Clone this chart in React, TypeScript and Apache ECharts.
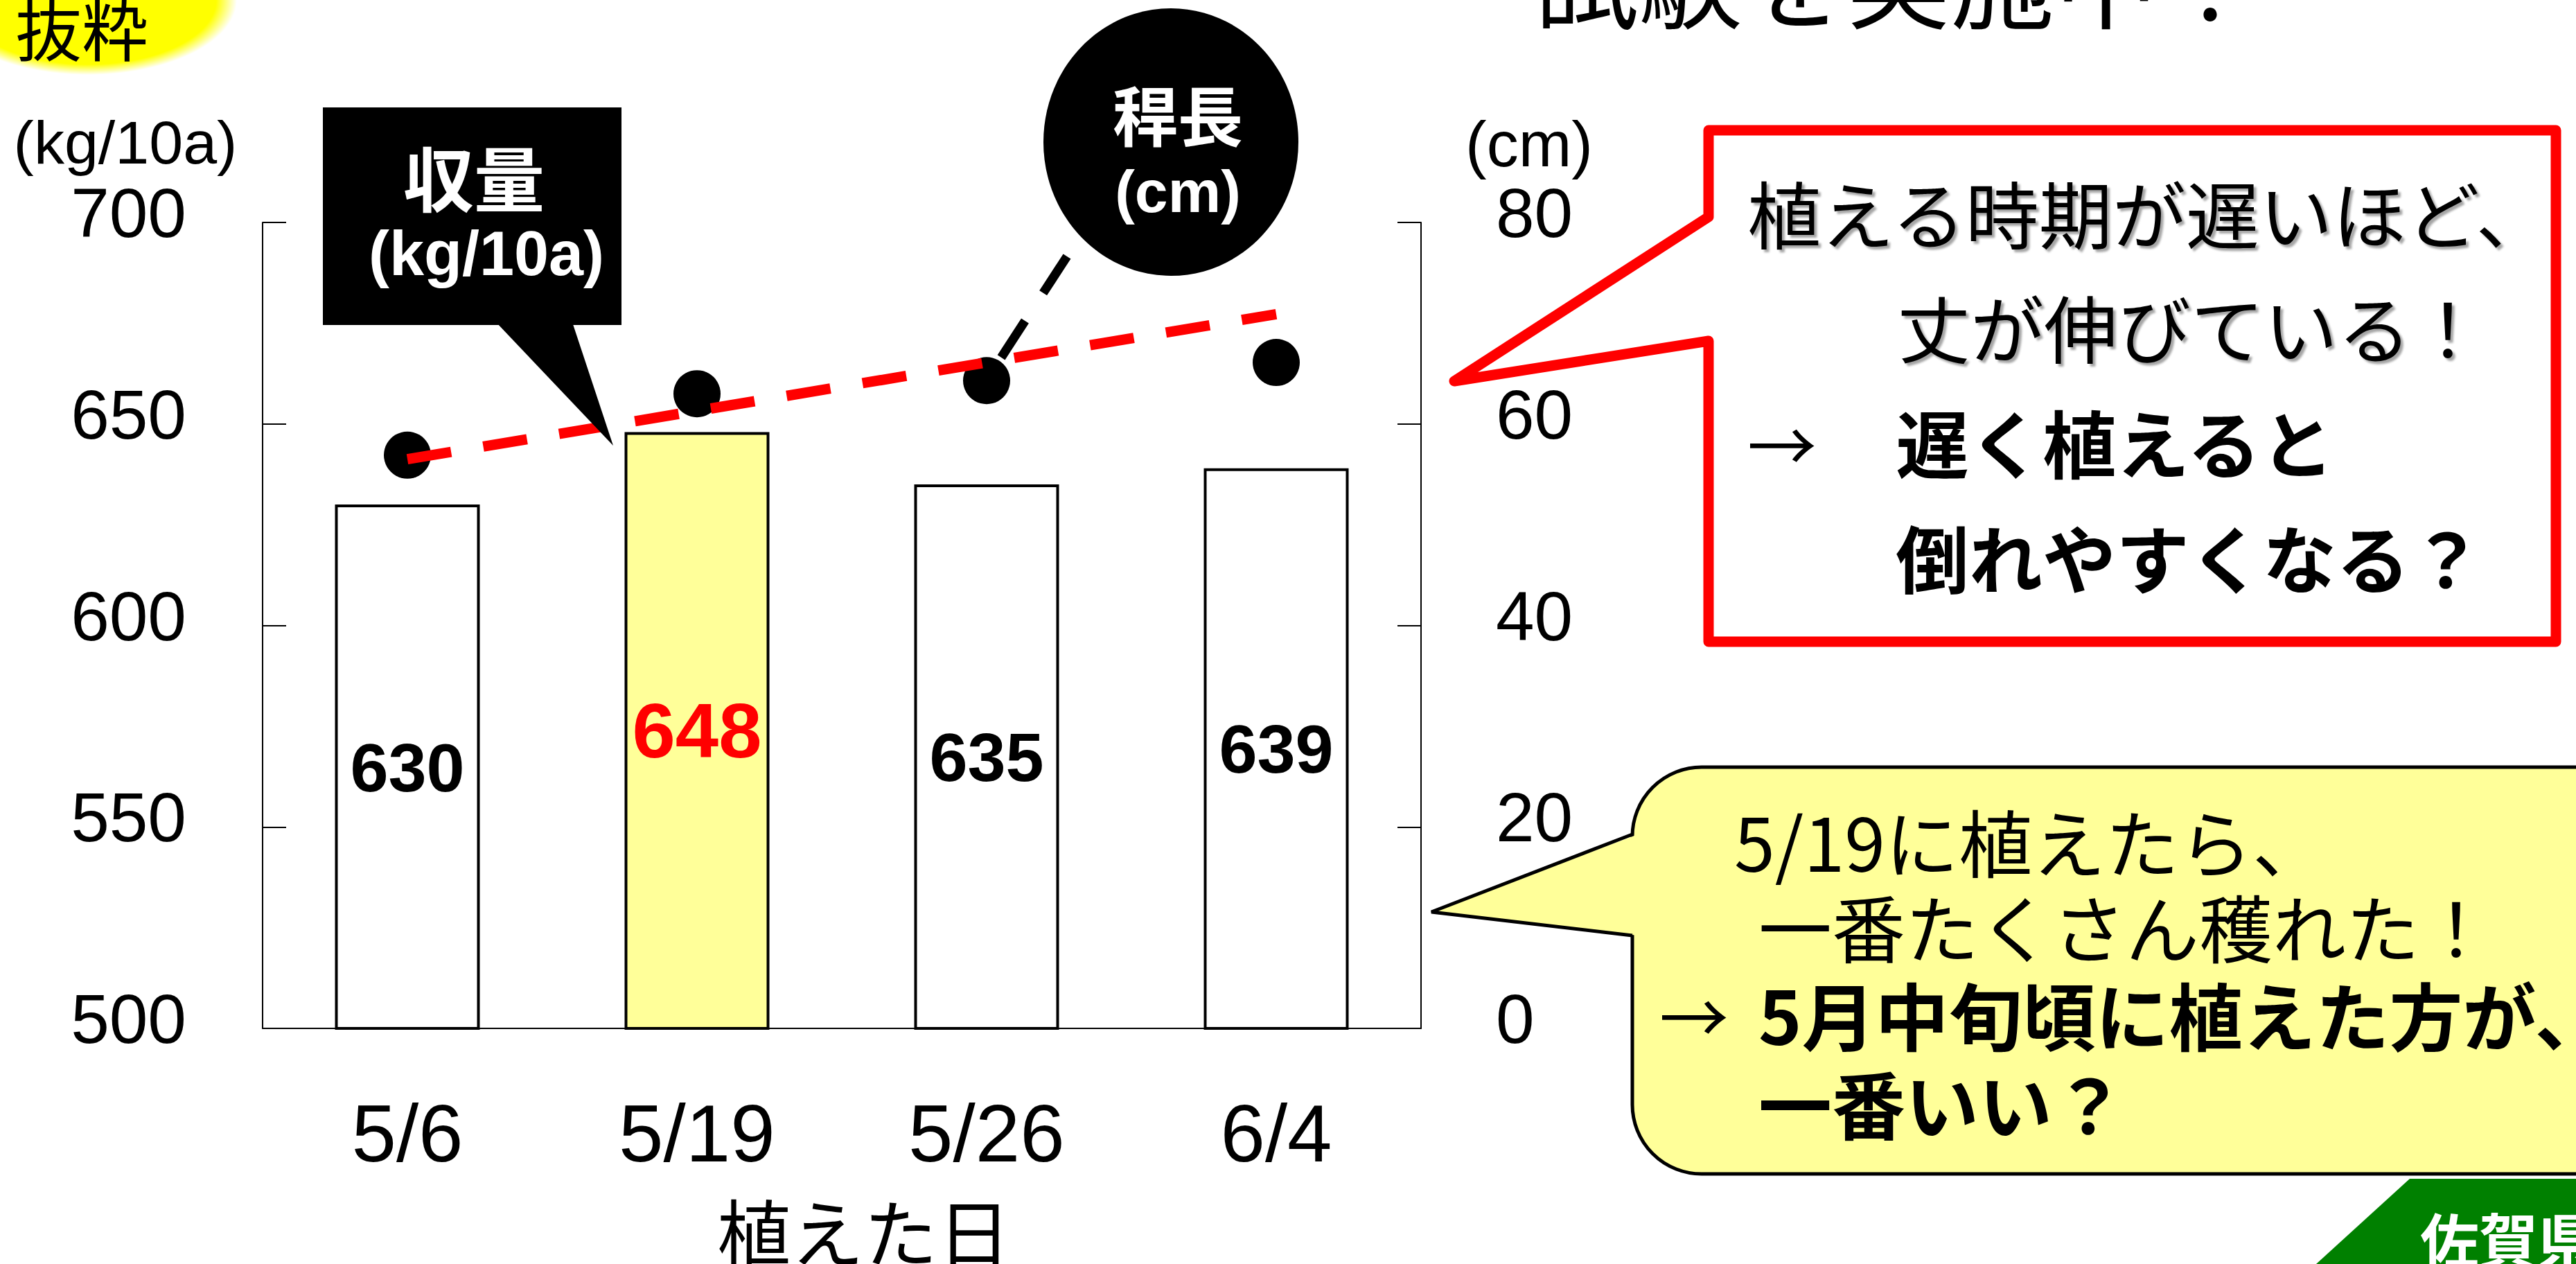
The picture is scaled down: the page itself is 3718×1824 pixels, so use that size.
import React, { useEffect, useRef } from "react";
import * as echarts from "echarts";

// ---- data ----
const categories = ["5/6", "5/19", "5/26", "6/4"];
const yieldValues = [630, 648, 635, 639]; // 収量 (kg/10a)
const stemLength = [56.9, 63.0, 64.3, 66.1]; // 稈長 (cm)
const trendEnds = [56.5, null, null, 70.9]; // hand-drawn trend line end points (cm)
const highlightDate = "5/19";
const yieldAxis = { min: 500, max: 700, interval: 50 };
const stemAxis = { min: 0, max: 80, interval: 20 };

const JP = '"Noto Sans CJK JP", "Noto Sans", sans-serif';
const NUM = '"Liberation Sans", Arial, "Noto Sans CJK JP", sans-serif';

function txt(x: number, y: number, text: string, o: any = {}) {
  const fs = o.fontSize ?? 106;
  return {
    type: "text",
    x,
    y,
    z: o.z ?? 20,
    style: {
      text,
      fill: o.fill ?? "#000",
      fontSize: fs,
      lineHeight: Math.round(fs * 1.05),
      fontFamily: o.fontFamily ?? JP,
      fontWeight: o.fontWeight ?? "normal",
      align: o.align ?? "left",
      verticalAlign: "middle",
      ...(o.shadow
        ? {
            textShadowColor: "rgba(0,0,0,0.35)",
            textShadowBlur: 3,
            textShadowOffsetX: 4,
            textShadowOffsetY: 4,
          }
        : {}),
    },
  };
}

export default function App() {
  const ref = useRef<HTMLDivElement>(null);

  useEffect(() => {
    document.body.style.margin = "0";
    document.body.style.overflow = "hidden";
    if (!ref.current) return;
    const chart = echarts.init(ref.current, undefined, { renderer: "svg" });

    const barData = yieldValues.map((v, i) => {
      const hl = categories[i] === highlightDate;
      return {
        value: v,
        itemStyle: { color: hl ? "#FFFF99" : "#FFFFFF" },
        label: { color: hl ? "#FF0000" : "#000000", fontSize: hl ? 112 : 99 },
      };
    });

    const yellowFill = "#FFFF99";

    const graphic: any[] = [
      // 抜粋 glow
      {
        type: "ellipse",
        z: 15,
        shape: { cx: 127, cy: 0, rx: 215, ry: 108 },
        style: {
          fill: new echarts.graphic.RadialGradient(0.5, 0.5, 0.5, [
            { offset: 0, color: "#FFFF00" },
            { offset: 0.86, color: "#FFFF00" },
            { offset: 1, color: "rgba(255,255,0,0)" },
          ]),
        },
      },
      txt(22, 38, "抜粋", { fontSize: 96 }),
      // top partial title
      txt(2215, -36, "試験を実施中！", { fontSize: 150 }),
      // axis names
      txt(181, 205, "(kg/10a)", { fontFamily: NUM, fontSize: 88, align: "center" }),
      txt(2207, 208, "(cm)", { fontFamily: NUM, fontSize: 92, align: "center" }),
      txt(1247, 1774, "植えた日", { fontSize: 106, align: "center" }),
      // 収量 callout
      {
        type: "polygon",
        z: 18,
        shape: { points: [[716, 465], [826, 465], [885, 643]] },
        style: { fill: "#000" },
      },
      {
        type: "rect",
        z: 18,
        shape: { x: 466, y: 155, width: 431, height: 314 },
        style: { fill: "#000" },
      },
      txt(684, 253, "収量", { fill: "#fff", fontWeight: "bold", fontSize: 102, align: "center" }),
      txt(702, 366, "(kg/10a)", {
        fill: "#fff",
        fontWeight: "bold",
        fontFamily: NUM,
        fontSize: 90,
        align: "center",
      }),
      // 稈長 callout
      {
        type: "line",
        z: 18,
        shape: { x1: 1540, y1: 370, x2: 1445, y2: 516 },
        style: { stroke: "#000", lineWidth: 13, lineDash: [63, 48] },
      },
      {
        type: "ellipse",
        z: 18,
        shape: { cx: 1690, cy: 205, rx: 184, ry: 193 },
        style: { fill: "#000" },
      },
      txt(1700, 163, "稈長", { fill: "#fff", fontWeight: "bold", fontSize: 94, align: "center" }),
      txt(1700, 276, "(cm)", {
        fill: "#fff",
        fontWeight: "bold",
        fontFamily: NUM,
        fontSize: 86,
        align: "center",
      }),
      // red callout
      {
        type: "polygon",
        z: 18,
        shape: {
          points: [
            [2466, 188],
            [3689, 188],
            [3689, 926],
            [2466, 926],
            [2466, 492],
            [2099, 550],
            [2466, 313],
          ],
        },
        style: { fill: "#fff", stroke: "#FF0000", lineWidth: 15, lineJoin: "round" },
      },
      txt(2522, 305, "植える時期が遅いほど、", { shadow: true }),
      txt(2738, 470, "丈が伸びている！", { shadow: true }),
      txt(2522, 637, "→", { fontSize: 100 }),
      txt(2736, 636, "遅く植えると", { fontWeight: "bold" }),
      txt(2736, 802, "倒れやすくなる？", { fontWeight: "bold" }),
      // yellow callout
      {
        type: "rect",
        z: 18,
        shape: { x: 2356, y: 1107, width: 1500, height: 587, r: 100 },
        style: { fill: yellowFill, stroke: "#000", lineWidth: 5 },
      },
      {
        type: "polygon",
        z: 19,
        shape: { points: [[2364, 1204], [2066, 1316], [2364, 1350]] },
        style: { fill: yellowFill },
      },
      {
        type: "polyline",
        z: 19,
        shape: { points: [[2356, 1204], [2066, 1316], [2356, 1350]] },
        style: { stroke: "#000", lineWidth: 5, fill: null, lineJoin: "miter" },
      },
      txt(2503, 1212, "5/19に植えたら、"),
      txt(2538, 1335, "一番たくさん穫れた！"),
      txt(2395, 1462, "→", { fontSize: 100 }),
      txt(2538, 1462, "5月中旬頃に植えた方が、", { fontWeight: "bold" }),
      txt(2538, 1590, "一番いい？", { fontWeight: "bold" }),
      // 佐賀県 tag
      {
        type: "polygon",
        z: 18,
        shape: { points: [[3343, 1824], [3478, 1701], [3718, 1701], [3718, 1824]] },
        style: { fill: "#008000" },
      },
      txt(3493, 1785, "佐賀県", { fill: "#fff", fontWeight: "bold", fontSize: 85 }),
    ];

    const axisLine = { show: true, lineStyle: { color: "#000", width: 2 } };

    chart.setOption({
      animation: false,
      backgroundColor: "#fff",
      grid: { left: 379, right: 1667, top: 321, bottom: 340, containLabel: false },
      xAxis: {
        type: "category",
        data: categories,
        axisLine,
        axisTick: { show: false },
        axisLabel: { fontSize: 116, fontFamily: NUM, color: "#000", margin: 94 },
        splitLine: { show: false },
      },
      yAxis: [
        {
          type: "value",
          position: "left",
          min: yieldAxis.min,
          max: yieldAxis.max,
          interval: yieldAxis.interval,
          axisLine,
          axisTick: { show: true, inside: true, length: 34, lineStyle: { color: "#000", width: 2 } },
          axisLabel: {
            fontSize: 100,
            fontFamily: NUM,
            color: "#000",
            margin: 110,
            verticalAlign: "bottom",
            lineHeight: 28,
          },
          splitLine: { show: false },
        },
        {
          type: "value",
          position: "right",
          min: stemAxis.min,
          max: stemAxis.max,
          interval: stemAxis.interval,
          axisLine,
          axisTick: { show: true, inside: true, length: 34, lineStyle: { color: "#000", width: 2 } },
          axisLabel: {
            fontSize: 100,
            fontFamily: NUM,
            color: "#000",
            margin: 108,
            verticalAlign: "bottom",
            lineHeight: 28,
          },
          splitLine: { show: false },
        },
      ],
      series: [
        {
          name: "収量",
          type: "bar",
          data: barData,
          barWidth: "50%",
          yAxisIndex: 0,
          itemStyle: { borderColor: "#000", borderWidth: 4 },
          label: {
            show: true,
            position: "inside",
            fontFamily: NUM,
            fontWeight: "bold",
          },
          z: 2,
        },
        {
          name: "稈長",
          type: "scatter",
          data: stemLength,
          yAxisIndex: 1,
          symbol: "circle",
          symbolSize: 68,
          itemStyle: { color: "#000000", opacity: 1 },
          z: 3,
        },
        {
          name: "稈長傾向",
          type: "line",
          data: trendEnds,
          yAxisIndex: 1,
          connectNulls: true,
          showSymbol: false,
          symbol: "none",
          lineStyle: { color: "#FF0000", width: 15, type: [64, 47], opacity: 1 },
          z: 4,
        },
      ],
      graphic,
    });

    return () => chart.dispose();
  }, []);

  return <div ref={ref} style={{ width: 3718, height: 1824 }} />;
}
